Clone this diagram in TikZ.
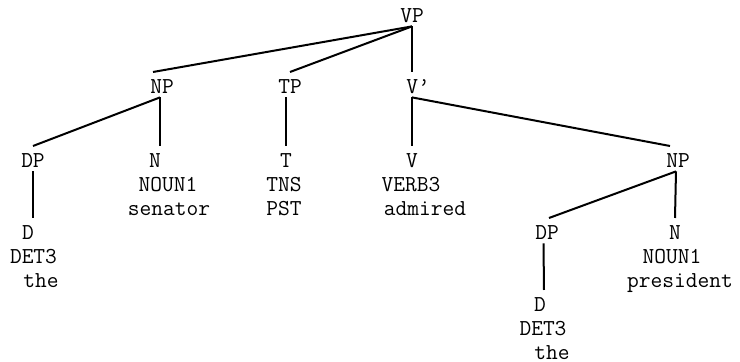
\documentclass[tikz,border=0pt]{standalone}
\usepackage{tikz}

\begin{document}
\begin{tikzpicture}[x=.5pt,y=-.5pt,font=\fontsize{11.4}{14}\ttfamily]
		\tikzstyle{cat}=[inner sep=0pt,anchor=base,text height=10.8pt,text depth=1.5pt]
		\tikzstyle{word}=[inner sep=0pt,anchor=base]
		\tikzstyle{branch}=[line width=1pt]
		\useasboundingbox (0,0) rectangle (740,362);

		% categories
		\node [cat] (vp) at (412,23) {VP};
		\node [cat] (np1) at (162,94) {NP};
		\node [cat] (tp) at (290,94) {TP};
		\node [cat] (vbar) at (418,94) {V’};
		\node [cat] (dp1) at (33,168) {DP};
		\node [cat] (n1) at (155,168) {N};
		\node [cat] (t) at (286,168) {T};
		\node [cat] (v) at (412,168) {V};
		\node [cat] (np2) at (678,168) {NP};
		\node [cat] (d1) at (28,240) {D};
		\node [cat] (dp2) at (547,240) {DP};
		\node [cat] (n2) at (675,240) {N};
		\node [cat] (d2) at (540,312) {D};

		% words
		\node [word] (n1a) at (168,192) {NOUN1};
		\node [word] (n1b) at (169,216) {senator};
		\node [word] (ta) at (284,192) {TNS};
		\node [word] (tb) at (284,216) {PST};
		\node [word] (va) at (411,192) {VERB3};
		\node [word] (vb) at (425,216) {admired};
		\node [word] (d1a) at (33.5,264) {DET3};
		\node [word] (d1b) at (41,288) {the};
		\node [word] (n2a) at (672,264) {NOUN1};
		\node [word] (n2b) at (680,288) {president};
		\node [word] (d2a) at (543,336) {DET3};
		\node [word] (d2b) at (552,360) {the};

		% branches
		\draw [branch] (vp.south) -- ([xshift=-4.5pt]np1.north);
		\draw [branch] (vp.south) -- (tp.north);
		\draw [branch] (vp.south) -- ([xshift=-3pt]vbar.north);
		\draw [branch] ([xshift=-1pt]np1.south) -- (dp1.north);
		\draw [branch] ([xshift=-1pt]np1.south) -- ([xshift=2.5pt]n1.north);
		\draw [branch] ([xshift=-2pt]tp.south) -- (t.north);
		\draw [branch] ([xshift=-3pt]vbar.south) -- (v.north);
		\draw [branch] ([xshift=-3pt]vbar.south) -- ([xshift=-4pt]np2.north);
		\draw [branch] (dp1.south) -- ([xshift=2.5pt]d1.north);
		\draw [branch] ([xshift=-1pt]np2.south) -- ([xshift=1pt]dp2.north);
		\draw [branch] ([xshift=-1pt]np2.south) -- (n2.north);
		\draw [branch] ([xshift=-1.75pt]dp2.south) -- ([xshift=2pt]d2.north);
\end{tikzpicture}
\end{document}
